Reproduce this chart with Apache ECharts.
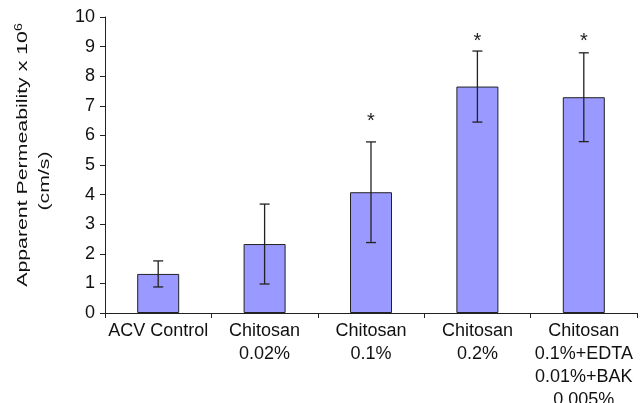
<!DOCTYPE html>
<html>
<head>
<meta charset="utf-8">
<script src="https://cdn.jsdelivr.net/npm/echarts@6/dist/echarts.min.js"></script>
<style>
html,body{margin:0;padding:0;background:#fff;}
#chart{width:644px;height:403px;}
</style>
</head>
<body>
<div id="chart"></div>
<script>
var categories = ['ACV Control', 'Chitosan\n0.02%', 'Chitosan\n0.1%', 'Chitosan\n0.2%', 'Chitosan\n0.1%+EDTA\n0.01%+BAK\n0.005%'];
var means = [1.32, 2.33, 4.08, 7.65, 7.29];
var errors = [0.44, 1.35, 1.7, 1.2, 1.5];
var significant = [false, false, true, true, true];
var starLevels = [null, null, 6.6, 9.3, 9.3];
var yTicks = [0, 1, 2, 3, 4, 5, 6, 7, 8, 9, 10];

var FONT = 'Liberation Sans, Arial, sans-serif';
var chart = echarts.init(document.getElementById('chart'), null, {renderer: 'canvas'});

var errData = means.map(function (m, i) { return [i, m - errors[i], m + errors[i]]; });
var starData = [];
significant.forEach(function (s, i) { if (s) starData.push([i, starLevels[i]]); });

chart.setOption({
  animation: false,
  backgroundColor: '#ffffff',
  grid: {left: 105, right: 7, top: 17, bottom: 90, containLabel: false, outerBoundsMode: 'none'},
  xAxis: {
    type: 'category',
    data: categories,
    boundaryGap: true,
    axisLine: {lineStyle: {color: '#222', width: 1}},
    axisTick: {show: true, length: 5, inside: false, alignWithLabel: false, lineStyle: {color: '#222'}},
    axisLabel: {interval: 0, margin: 7, color: '#111', fontFamily: FONT, fontSize: 18, lineHeight: 23, align: 'center'}
  },
  yAxis: {
    type: 'value',
    min: yTicks[0],
    max: yTicks[yTicks.length - 1],
    interval: 1,
    splitLine: {show: false},
    axisLine: {show: true, lineStyle: {color: '#222', width: 1}},
    axisTick: {show: true, length: 5, lineStyle: {color: '#222'}},
    axisLabel: {margin: 10, color: '#111', fontFamily: FONT, fontSize: 18}
  },
  graphic: [
    {
      type: 'text', x: 23, y: 155, rotation: Math.PI / 2, scaleX: 1.42, scaleY: 1,
      style: {
        text: '{a|Apparent Permeability x 10}{s|6}',
        align: 'center', verticalAlign: 'middle',
        fill: '#111', fontFamily: FONT,
        rich: {
          a: {fontSize: 15, fontFamily: FONT, fill: '#111', lineHeight: 18},
          s: {fontSize: 10, fontFamily: FONT, fill: '#111', lineHeight: 10, verticalAlign: 'top'}
        }
      }
    },
    {
      type: 'text', x: 45, y: 181, rotation: Math.PI / 2, scaleX: 1.42, scaleY: 1,
      style: {text: '(cm/s)', align: 'center', verticalAlign: 'middle', fill: '#111', fontFamily: FONT, fontSize: 15}
    }
  ],
  series: [
    {
      type: 'bar',
      data: means,
      barWidth: 42,
      itemStyle: {color: '#9999ff', borderColor: '#222', borderWidth: 1}
    },
    {
      type: 'custom',
      data: errData,
      z: 10,
      renderItem: function (params, api) {
        var x = api.value(0);
        var lo = api.coord([x, api.value(1)]);
        var hi = api.coord([x, api.value(2)]);
        var hw = 5;
        var st = {stroke: '#222', lineWidth: 1.3};
        return {
          type: 'group',
          children: [
            {type: 'line', shape: {x1: lo[0], y1: lo[1], x2: hi[0], y2: hi[1]}, style: st},
            {type: 'line', shape: {x1: lo[0] - hw, y1: lo[1], x2: lo[0] + hw, y2: lo[1]}, style: st},
            {type: 'line', shape: {x1: hi[0] - hw, y1: hi[1], x2: hi[0] + hw, y2: hi[1]}, style: st}
          ]
        };
      }
    },
    {
      type: 'custom',
      data: starData,
      z: 10,
      renderItem: function (params, api) {
        var p = api.coord([api.value(0), api.value(1)]);
        return {
          type: 'text',
          x: p[0], y: p[1] + 4,
          style: {text: '*', fontSize: 20, fontFamily: FONT, fill: '#222', align: 'center', verticalAlign: 'middle'}
        };
      }
    }
  ]
});
</script>
</body>
</html>
